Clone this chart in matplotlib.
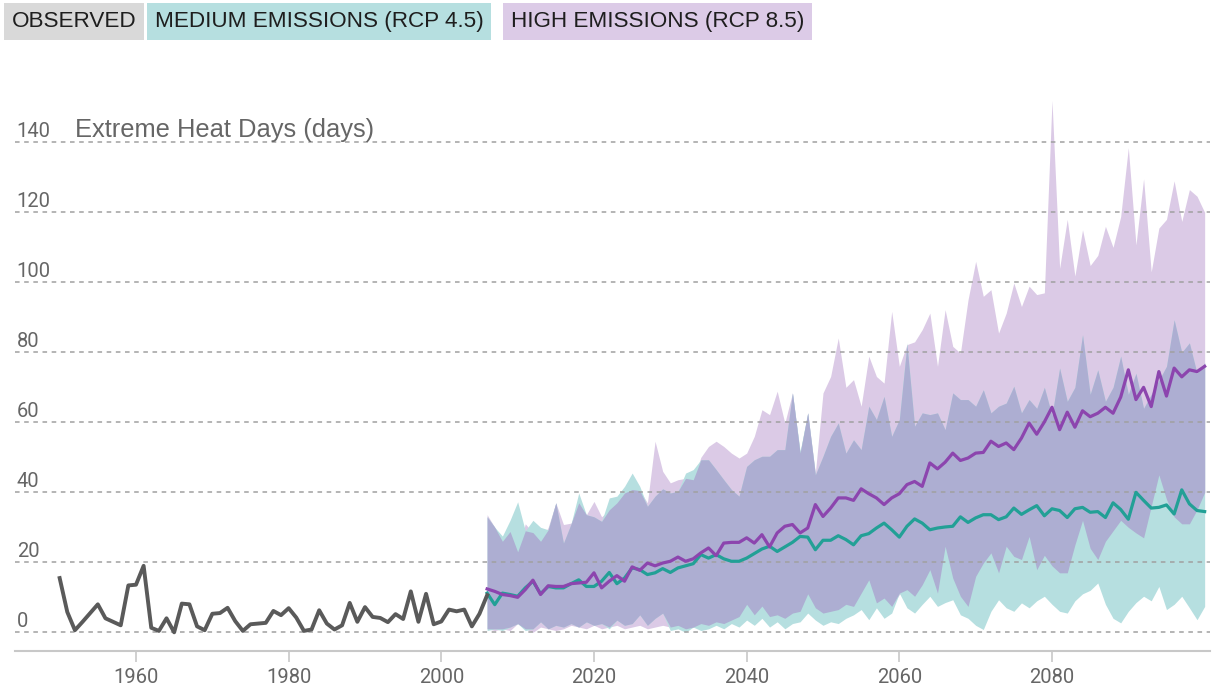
import matplotlib
matplotlib.use("Agg")
import matplotlib.pyplot as plt
import numpy as np

# observed annual extreme heat days, 1950-2006
obs_years = np.arange(1950, 2007)
observed = [15.5, 5.8, 0.6, 3.0, 5.5, 8.0, 4.0, 3.0, 2.0, 13.4,
            13.6, 19.0, 1.3, 0.4, 4.0, 0.0, 8.2, 8.0, 1.7, 0.6,
            5.3, 5.5, 7.0, 3.2, 0.4, 2.3, 2.5, 2.7, 6.1, 4.9,
            6.9, 4.2, 0.4, 0.8, 6.3, 2.5, 0.8, 2.0, 8.4, 3.0,
            7.2, 4.4, 4.1, 2.9, 5.2, 3.8, 11.7, 3.0, 11.0, 2.3,
            3.1, 6.5, 6.0, 6.5, 1.7, 5.3, 10.6]

# model projections, 2006-2100
proj_years = np.arange(2006, 2101)

rcp45_mean = [11.2, 7.9, 11.2, 10.8, 10.3, 12.7, 14.6, 11.0, 13.1, 12.7,
              12.7, 13.9, 15.0, 13.1, 13.1, 14.6, 17.1, 13.9, 15.5, 18.4,
              17.9, 16.5, 17.0, 18.2, 17.1, 18.4, 19.0, 19.6, 22.2, 21.2,
              22.2, 21.0, 20.3, 20.3, 21.2, 22.5, 23.8, 24.6, 23.1, 24.4,
              25.7, 27.4, 27.2, 23.6, 26.3, 26.3, 27.6, 26.5, 25.0, 27.6,
              28.2, 29.8, 31.2, 29.3, 27.2, 30.3, 32.4, 31.2, 29.3, 29.8,
              30.1, 30.3, 33.0, 31.4, 32.7, 33.6, 33.6, 32.2, 33.0, 35.5,
              33.7, 35.0, 36.2, 33.3, 35.3, 34.8, 32.8, 35.3, 35.7, 34.3,
              34.5, 32.8, 37.0, 35.1, 32.3, 40.0, 37.7, 35.5, 35.7, 36.4,
              33.8, 40.7, 36.7, 34.8, 34.5]
rcp45_low = [0.5, 1.0, 0.5, 1.5, 2.5, 0.5, 1.0, 3.0, 1.0, 2.0,
             1.5, 2.5, 1.5, 3.0, 2.0, 2.5, 1.0, 3.5, 2.0, 2.5,
             5.0, 2.0, 4.0, 5.5, 0.5, 1.0, 0.0, 1.5, 0.5, 1.0,
             2.0, 1.0, 2.5, 1.5, 3.5, 2.0, 4.0, 1.5, 3.0, 1.0,
             2.5, 3.0, 5.5, 3.5, 2.0, 3.0, 2.5, 4.0, 5.0, 6.5,
             3.6, 7.0, 4.0, 5.5, 11.2, 7.0, 5.5, 8.0, 10.3, 7.4,
             8.5, 9.3, 5.0, 4.0, 2.0, 0.8, 6.0, 9.3, 7.0, 6.0,
             8.4, 7.0, 9.0, 10.3, 8.0, 6.0, 5.5, 9.0, 11.0, 12.0,
             14.1, 8.0, 4.0, 2.7, 6.0, 8.5, 10.3, 9.0, 13.1, 6.5,
             8.0, 10.3, 7.0, 3.6, 7.4]
rcp45_high = [33.0, 30.0, 27.5, 32.0, 37.3, 29.0, 32.0, 30.0, 29.3, 37.0,
              25.5, 31.0, 39.8, 33.6, 33.0, 31.7, 38.4, 38.9, 41.7, 45.5,
              41.7, 36.0, 38.9, 41.0, 39.8, 40.3, 45.5, 46.5, 49.3, 49.3,
              46.5, 43.6, 40.8, 38.9, 47.4, 49.3, 50.3, 50.3, 52.2, 52.2,
              68.4, 51.7, 62.7, 45.0, 50.3, 56.0, 59.8, 51.2, 55.0, 52.2,
              64.6, 60.8, 67.4, 56.0, 60.8, 82.7, 58.9, 62.7, 62.2, 62.7,
              57.9, 68.4, 66.5, 66.5, 64.6, 69.3, 62.7, 64.6, 65.5, 70.3,
              62.7, 66.5, 64.0, 70.0, 62.0, 75.5, 66.0, 70.0, 85.0, 68.0,
              75.0, 66.0, 70.0, 78.9, 68.0, 74.0, 64.0, 68.0, 72.0, 76.0,
              89.3, 80.0, 82.7, 74.0, 77.0]

rcp85_mean = [12.4, 11.7, 10.8, 10.5, 10.0, 12.2, 14.9, 10.8, 13.3, 13.1,
              13.1, 13.9, 14.1, 14.3, 17.0, 12.7, 14.6, 16.2, 14.6, 18.7,
              17.7, 19.8, 19.0, 19.8, 20.3, 21.5, 20.3, 21.0, 22.7, 24.1,
              21.9, 25.5, 25.7, 25.7, 27.0, 25.5, 27.9, 24.4, 28.4, 30.3,
              30.8, 28.4, 29.8, 36.5, 33.1, 35.5, 38.4, 38.4, 37.7, 41.0,
              39.6, 38.4, 36.5, 38.4, 39.6, 42.2, 43.1, 41.7, 48.4, 46.7,
              48.6, 51.2, 49.1, 49.8, 51.2, 51.4, 54.6, 53.1, 54.1, 52.2,
              55.5, 59.8, 56.6, 60.1, 64.3, 57.9, 62.9, 58.6, 63.3, 61.6,
              62.6, 64.3, 62.6, 67.2, 75.0, 66.5, 70.0, 64.5, 74.5, 67.5,
              75.5, 73.0, 75.0, 74.5, 76.0]
rcp85_low = [1.0, 0.5, 1.0, 0.5, 2.5, 1.0, 0.0, 1.5, 1.0, 0.5,
             1.0, 2.0, 1.5, 1.0, 2.0, 1.0, 1.5, 2.0, 1.0, 1.5,
             2.0, 1.0, 1.5, 2.0, 1.5, 2.0, 1.0, 1.5, 2.5, 2.0,
             3.0, 2.5, 3.5, 4.5, 8.0, 5.0, 7.5, 4.5, 5.0, 4.0,
             5.5, 6.0, 11.0, 7.0, 5.5, 6.0, 6.5, 8.0, 7.4, 11.2,
             15.0, 8.4, 9.8, 7.4, 10.8, 12.2, 10.3, 13.6, 17.9, 11.2,
             24.6, 15.5, 10.3, 7.4, 16.0, 19.8, 22.7, 17.0, 24.6, 21.7,
             20.8, 27.4, 17.9, 22.0, 19.0, 17.0, 17.0, 25.0, 32.0, 24.0,
             20.8, 26.0, 29.0, 32.0, 30.0, 28.4, 27.0, 36.0, 45.0, 38.0,
             33.0, 31.0, 31.0, 35.0, 40.0]
rcp85_high = [33.6, 30.0, 26.0, 28.8, 23.0, 31.0, 28.5, 26.0, 30.0, 37.0,
              30.8, 31.2, 37.0, 33.6, 37.4, 33.0, 35.0, 37.0, 39.8, 40.8,
              40.5, 37.0, 54.6, 46.0, 42.7, 43.6, 44.0, 43.6, 50.0, 53.1,
              54.6, 53.1, 51.2, 49.8, 51.2, 56.0, 63.6, 62.2, 68.9, 59.8,
              68.4, 51.2, 62.7, 45.5, 68.4, 73.1, 84.1, 70.0, 72.2, 64.6,
              78.9, 73.1, 71.2, 91.7, 76.0, 82.2, 83.0, 86.5, 91.2, 76.0,
              92.2, 81.7, 79.8, 95.0, 106.0, 96.0, 97.9, 85.5, 91.2, 99.8,
              93.1, 98.9, 96.5, 97.0, 152.0, 104.0, 118.0, 101.8, 115.0, 104.8,
              107.7, 116.0, 110.0, 118.8, 138.5, 110.7, 129.6, 103.0, 115.5, 118.0,
              129.0, 117.4, 126.5, 124.6, 120.0]

yticks = [0, 20, 40, 60, 80, 100, 120, 140]
xticks = [1960, 1980, 2000, 2020, 2040, 2060, 2080]
legend_items = [("OBSERVED", "#d9d9d9"),
                ("MEDIUM EMISSIONS (RCP 4.5)", "#b6dfe0"),
                ("HIGH EMISSIONS (RCP 8.5)", "#dccbe7")]

TEAL_BAND = "#b6dfe0"
PURPLE_BAND = "#dbcae6"
BOTH_BAND = "#adaed2"
TEAL = "#22a096"
PURPLE = "#8c45ae"
GREY = "#5a5a5a"

plt.rcParams["font.family"] = ["Roboto", "DejaVu Sans"]

fig = plt.figure(figsize=(12.12, 6.87), dpi=100)
ax = fig.add_axes([15 / 1212, 36 / 687, 1195 / 1212, 551 / 687])

t_lo, t_hi = np.array(rcp45_low), np.array(rcp45_high)
p_lo, p_hi = np.array(rcp85_low), np.array(rcp85_high)

# ranges, then the region where both ranges overlap
ax.fill_between(proj_years, p_lo, p_hi, color=PURPLE_BAND, lw=0, zorder=1)
ax.fill_between(proj_years, t_lo, t_hi, color=TEAL_BAND, lw=0, zorder=1)
ov_lo = np.maximum(t_lo, p_lo)
ov_hi = np.minimum(t_hi, p_hi)
ax.fill_between(proj_years, ov_lo, ov_hi, where=ov_hi > ov_lo,
                interpolate=True, color=BOTH_BAND, lw=0, zorder=2)

for v in yticks:
    ax.axhline(v, color="#a0a0a0", lw=1.1, ls=(0, (3, 3)), zorder=3)

ax.plot(proj_years, rcp45_mean, color=TEAL, lw=2.3, zorder=4)
ax.plot(proj_years, rcp85_mean, color=PURPLE, lw=2.3, zorder=5)
ax.plot(obs_years, observed, color=GREY, lw=2.8, zorder=6)

ax.set_xlim(1944.15, 2100.7)
ax.set_ylim(-5.34, 152.1)

for s in ["top", "right", "left"]:
    ax.spines[s].set_visible(False)
ax.spines["bottom"].set_color("#c8c8c8")
ax.spines["bottom"].set_linewidth(1.5)

ax.set_yticks([])
ax.set_xticks(xticks)
ax.set_xticklabels([str(x) for x in xticks])
ax.tick_params(axis="x", length=8, width=1.2, color="#c8c8c8",
               labelsize=14.5, labelcolor="#666666", pad=4)

# y labels sit just above their gridlines
for v in yticks:
    ax.text(0.0015, v + 1.6, str(v), transform=ax.get_yaxis_transform(),
            fontsize=14.5, color="#666666", va="baseline", ha="left")
ax.text(0.0505, 141.6, "Extreme Heat Days (days)",
        transform=ax.get_yaxis_transform(), fontsize=18.4,
        family=["Liberation Sans", "DejaVu Sans"],
        color="#666666", va="baseline", ha="left")

# legend chips along the top
chip_x = [12, 155, 511]
for (label, col), x in zip(legend_items, chip_x):
    fig.text(x / 1212, 1 - 21.5 / 687, label, fontsize=16.2, color="#1e1e1e",
             family=["Liberation Sans", "DejaVu Sans"],
             va="center", ha="left",
             bbox=dict(boxstyle="square,pad=0.34", fc=col, ec="none"))

fig.savefig("out.png", dpi=100)
